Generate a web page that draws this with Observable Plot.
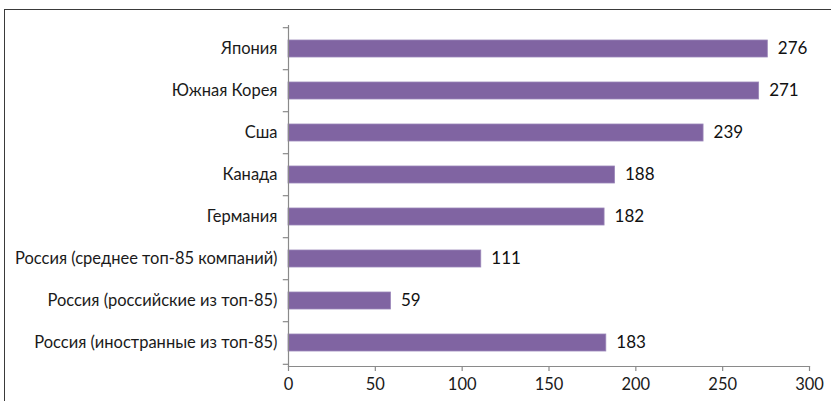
<!DOCTYPE html>
<html>
<head>
<meta charset="utf-8">
<script src="https://cdn.jsdelivr.net/npm/d3@7"></script>
<script src="https://cdn.jsdelivr.net/npm/@observablehq/plot@0.6"></script>
<style>
  html, body { margin: 0; padding: 0; background: #fff; }
  #wrap { position: relative; width: 831px; height: 401px; overflow: hidden; }
  #frame { position: absolute; left: 4px; top: 9px; right: -2px; bottom: -2px;
           border-top: 1.5px solid #3a3a3a; border-left: 1.5px solid #3a3a3a; pointer-events: none; }
  svg { display: block; }
</style>
</head>
<body>
<div id="wrap"><div id="frame"></div></div>
<script>
const categories = [
  "Япония",
  "Южная Корея",
  "Сша",
  "Канада",
  "Германия",
  "Россия (среднее топ-85 компаний)",
  "Россия (российские из топ-85)",
  "Россия (иностранные из топ-85)"
];
const values = [276, 271, 239, 188, 182, 111, 59, 183];
const xTicks = [0, 50, 100, 150, 200, 250, 300];

const data = categories.map((c, i) => ({category: c, value: values[i]}));

const W = 831, H = 401;
const mTop = 25, mBottom = 35, mLeft = 288, mRight = 22;
const step = (H - mTop - mBottom) / categories.length;
const font = "Lato, 'Open Sans', sans-serif";
const axisColor = "#8a8a8a";
const fs = 16.5;

const chart = Plot.plot({
  width: W,
  height: H,
  marginTop: mTop,
  marginBottom: mBottom,
  marginLeft: mLeft,
  marginRight: mRight,
  style: {fontFamily: font, fontSize: fs + "px", color: "#1a1a1a", background: "transparent"},
  x: {domain: [0, 300], ticks: xTicks},
  y: {domain: categories, paddingInner: 0.6, paddingOuter: 0.3},
  marks: [
    Plot.barX(data, {y: "category", x: "value", fill: "#8064A2", stroke: "#9a86b8", strokeWidth: 0.8}),
    Plot.text(data, {y: "category", x: "value", text: d => String(d.value), textAnchor: "start", dx: 10, fontSize: fs + 0.5, fill: "#111"}),
    // category boundary tick marks (Excel style)
    Plot.ruleY(categories, {y: d => d, x1: -3, x2: 0, dy: -step / 2, stroke: axisColor, strokeWidth: 1.2}),
    Plot.ruleY([categories[categories.length - 1]], {y: d => d, x1: -3, x2: 0, dy: step / 2, stroke: axisColor, strokeWidth: 1.2}),
    Plot.frame({anchor: "left", stroke: axisColor, strokeWidth: 1.2}),
    Plot.frame({anchor: "bottom", stroke: axisColor, strokeWidth: 1.2}),
    Plot.axisY({tickSize: 0, tickPadding: 11, label: null, fontSize: fs}),
    Plot.axisX({ticks: xTicks, tickSize: 5, tickPadding: 7, stroke: axisColor, strokeWidth: 1.2, label: null, fontSize: fs, tickFormat: d => String(d)})
  ]
});
document.getElementById("wrap").prepend(chart);
</script>
</body>
</html>
